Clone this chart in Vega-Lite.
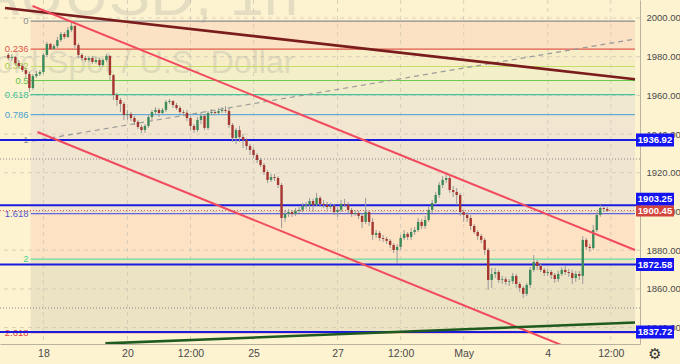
{
"$schema":"https://vega.github.io/schema/vega-lite/v6.json",
"width":640,"height":344,
"autosize":{"type":"none"},
"padding":{"left":0,"top":0,"right":40,"bottom":20},
"background":"#fdf3d1",
"config":{"view":{"stroke":null,"fill":"#fdf3d1"},"font":"Liberation Sans"},
"resolve":{"scale":{"color":"independent","fill":"independent","stroke":"independent"}},
"datasets":{
"fib":[
{"lv":"0","p":1998.43,"p2":1983.91},
{"lv":"0.236","p":1983.91,"p2":1974.93},
{"lv":"0.382","p":1974.93,"p2":1967.68},
{"lv":"0.5","p":1967.68,"p2":1960.42},
{"lv":"0.618","p":1960.42,"p2":1950.08},
{"lv":"0.786","p":1950.08,"p2":1936.92},
{"lv":"1","p":1936.92,"p2":1898.91},
{"lv":"1.618","p":1898.91,"p2":1875.41},
{"lv":"2","p":1875.41,"p2":1837.4},
{"lv":"2.618","p":1837.4}
],
"candles":[
{"t":-20,"o":1980.9,"h":1981.9,"l":1978.3,"c":1979.3},
{"t":-18,"o":1979.3,"h":1981.4,"l":1977.8,"c":1979.8},
{"t":-16,"o":1979.8,"h":1980.4,"l":1975.7,"c":1976.7},
{"t":-14,"o":1976.7,"h":1978.3,"l":1974.2,"c":1975.2},
{"t":-12,"o":1975.2,"h":1976.2,"l":1972.1,"c":1973.1},
{"t":-10,"o":1973.1,"h":1974.2,"l":1969.0,"c":1971.1},
{"t":-8,"o":1971.1,"h":1972.1,"l":1961.8,"c":1963.8},
{"t":-6,"o":1963.8,"h":1971.1,"l":1962.8,"c":1970.0},
{"t":-4,"o":1970.0,"h":1972.6,"l":1969.0,"c":1971.1},
{"t":-2,"o":1971.1,"h":1973.1,"l":1970.0,"c":1972.1},
{"t":0,"o":1972.1,"h":1981.9,"l":1971.1,"c":1980.9},
{"t":2,"o":1980.9,"h":1987.6,"l":1979.8,"c":1986.6},
{"t":4,"o":1986.6,"h":1987.1,"l":1983.5,"c":1984.0},
{"t":6,"o":1984.0,"h":1986.6,"l":1983.5,"c":1985.5},
{"t":8,"o":1985.5,"h":1990.2,"l":1984.5,"c":1988.6},
{"t":10,"o":1988.6,"h":1992.8,"l":1987.6,"c":1991.7},
{"t":12,"o":1991.7,"h":1992.8,"l":1989.1,"c":1990.2},
{"t":14,"o":1990.2,"h":1995.3,"l":1989.7,"c":1993.8},
{"t":16,"o":1993.8,"h":1998.4,"l":1992.8,"c":1995.9},
{"t":18,"o":1995.9,"h":1996.4,"l":1984.5,"c":1986.0},
{"t":20,"o":1986.0,"h":1987.1,"l":1979.3,"c":1980.9},
{"t":22,"o":1980.9,"h":1981.9,"l":1977.8,"c":1979.3},
{"t":24,"o":1979.3,"h":1980.4,"l":1977.3,"c":1978.3},
{"t":26,"o":1978.3,"h":1980.4,"l":1977.3,"c":1979.3},
{"t":28,"o":1979.3,"h":1980.4,"l":1976.2,"c":1977.3},
{"t":30,"o":1977.3,"h":1979.8,"l":1976.2,"c":1978.3},
{"t":32,"o":1978.3,"h":1979.3,"l":1974.7,"c":1975.7},
{"t":34,"o":1975.7,"h":1979.3,"l":1974.7,"c":1978.3},
{"t":36,"o":1978.3,"h":1981.4,"l":1977.3,"c":1980.4},
{"t":38,"o":1980.4,"h":1980.9,"l":1968.0,"c":1970.5},
{"t":40,"o":1970.5,"h":1971.1,"l":1957.6,"c":1960.2},
{"t":42,"o":1960.2,"h":1961.2,"l":1954.5,"c":1957.6},
{"t":44,"o":1957.6,"h":1958.7,"l":1951.4,"c":1955.6},
{"t":46,"o":1955.6,"h":1956.6,"l":1947.3,"c":1949.9},
{"t":48,"o":1949.9,"h":1952.5,"l":1947.3,"c":1950.4},
{"t":50,"o":1950.4,"h":1951.4,"l":1946.8,"c":1948.3},
{"t":52,"o":1948.3,"h":1949.3,"l":1944.7,"c":1946.3},
{"t":54,"o":1946.3,"h":1947.3,"l":1942.6,"c":1943.7},
{"t":56,"o":1943.7,"h":1944.7,"l":1940.6,"c":1942.1},
{"t":58,"o":1942.1,"h":1945.2,"l":1940.6,"c":1944.2},
{"t":60,"o":1944.2,"h":1949.9,"l":1943.2,"c":1948.8},
{"t":62,"o":1948.8,"h":1952.5,"l":1947.3,"c":1951.4},
{"t":64,"o":1951.4,"h":1954.0,"l":1950.4,"c":1952.5},
{"t":66,"o":1952.5,"h":1953.5,"l":1948.8,"c":1950.9},
{"t":68,"o":1950.9,"h":1953.5,"l":1950.4,"c":1952.5},
{"t":70,"o":1952.5,"h":1957.6,"l":1951.4,"c":1956.6},
{"t":72,"o":1956.6,"h":1958.1,"l":1955.6,"c":1957.1},
{"t":74,"o":1957.1,"h":1957.6,"l":1953.5,"c":1955.0},
{"t":76,"o":1955.0,"h":1956.1,"l":1952.5,"c":1953.5},
{"t":78,"o":1953.5,"h":1954.5,"l":1950.4,"c":1951.4},
{"t":80,"o":1951.4,"h":1952.5,"l":1949.4,"c":1951.0},
{"t":82,"o":1951.0,"h":1952.5,"l":1946.8,"c":1948.3},
{"t":84,"o":1948.3,"h":1949.3,"l":1942.1,"c":1944.2},
{"t":86,"o":1944.2,"h":1945.2,"l":1940.6,"c":1942.1},
{"t":88,"o":1942.1,"h":1948.8,"l":1941.1,"c":1947.3},
{"t":90,"o":1947.3,"h":1951.4,"l":1945.2,"c":1949.4},
{"t":92,"o":1949.4,"h":1950.4,"l":1942.1,"c":1943.2},
{"t":94,"o":1943.2,"h":1951.9,"l":1942.1,"c":1950.9},
{"t":96,"o":1950.9,"h":1953.0,"l":1949.9,"c":1951.4},
{"t":98,"o":1951.4,"h":1952.5,"l":1949.9,"c":1950.9},
{"t":100,"o":1950.9,"h":1953.5,"l":1950.4,"c":1951.9},
{"t":102,"o":1951.9,"h":1954.0,"l":1950.9,"c":1952.5},
{"t":104,"o":1952.5,"h":1954.5,"l":1950.9,"c":1952.0},
{"t":106,"o":1952.0,"h":1953.5,"l":1943.2,"c":1944.7},
{"t":108,"o":1944.7,"h":1945.7,"l":1935.9,"c":1938.0},
{"t":110,"o":1938.0,"h":1943.2,"l":1934.9,"c":1942.1},
{"t":112,"o":1942.1,"h":1944.2,"l":1935.9,"c":1938.5},
{"t":114,"o":1938.5,"h":1940.1,"l":1932.8,"c":1937.0},
{"t":116,"o":1937.0,"h":1938.0,"l":1931.8,"c":1933.8},
{"t":118,"o":1933.8,"h":1934.9,"l":1929.2,"c":1931.8},
{"t":120,"o":1931.8,"h":1932.8,"l":1927.6,"c":1929.2},
{"t":122,"o":1929.2,"h":1930.2,"l":1925.1,"c":1926.6},
{"t":124,"o":1926.6,"h":1927.6,"l":1923.0,"c":1924.0},
{"t":126,"o":1924.0,"h":1925.1,"l":1918.9,"c":1920.4},
{"t":128,"o":1920.4,"h":1921.4,"l":1914.7,"c":1916.3},
{"t":130,"o":1916.3,"h":1919.4,"l":1915.2,"c":1917.8},
{"t":132,"o":1917.8,"h":1919.4,"l":1915.8,"c":1917.3},
{"t":134,"o":1917.3,"h":1918.3,"l":1912.1,"c":1913.7},
{"t":136,"o":1913.7,"h":1914.7,"l":1891.5,"c":1896.6},
{"t":138,"o":1896.6,"h":1900.8,"l":1894.6,"c":1898.7},
{"t":140,"o":1898.7,"h":1901.3,"l":1897.2,"c":1899.7},
{"t":142,"o":1899.7,"h":1900.8,"l":1897.2,"c":1898.7},
{"t":144,"o":1898.7,"h":1901.8,"l":1897.7,"c":1900.3},
{"t":146,"o":1900.3,"h":1902.3,"l":1899.2,"c":1900.8},
{"t":148,"o":1900.8,"h":1904.4,"l":1899.7,"c":1902.8},
{"t":150,"o":1902.8,"h":1904.9,"l":1901.3,"c":1903.4},
{"t":152,"o":1903.4,"h":1907.0,"l":1900.8,"c":1905.4},
{"t":154,"o":1905.4,"h":1906.5,"l":1899.7,"c":1903.4},
{"t":156,"o":1903.4,"h":1909.6,"l":1902.8,"c":1907.0},
{"t":158,"o":1907.0,"h":1908.0,"l":1902.3,"c":1903.9},
{"t":160,"o":1903.9,"h":1905.9,"l":1901.8,"c":1903.4},
{"t":162,"o":1903.4,"h":1904.9,"l":1900.8,"c":1902.3},
{"t":164,"o":1902.3,"h":1904.4,"l":1901.3,"c":1902.8},
{"t":166,"o":1902.8,"h":1903.9,"l":1898.2,"c":1899.7},
{"t":168,"o":1899.7,"h":1902.3,"l":1897.2,"c":1900.8},
{"t":170,"o":1900.8,"h":1905.9,"l":1899.7,"c":1903.9},
{"t":172,"o":1903.9,"h":1906.5,"l":1902.3,"c":1903.5},
{"t":174,"o":1903.5,"h":1904.9,"l":1899.2,"c":1900.8},
{"t":176,"o":1900.8,"h":1901.8,"l":1897.2,"c":1898.7},
{"t":178,"o":1898.7,"h":1900.8,"l":1897.7,"c":1899.2},
{"t":180,"o":1899.2,"h":1900.3,"l":1896.1,"c":1897.7},
{"t":182,"o":1897.7,"h":1898.7,"l":1891.5,"c":1894.6},
{"t":184,"o":1894.6,"h":1907.0,"l":1893.5,"c":1899.7},
{"t":186,"o":1899.7,"h":1900.8,"l":1892.5,"c":1894.6},
{"t":188,"o":1894.6,"h":1896.6,"l":1885.3,"c":1887.9},
{"t":190,"o":1887.9,"h":1890.4,"l":1886.3,"c":1888.9},
{"t":192,"o":1888.9,"h":1889.9,"l":1884.8,"c":1886.3},
{"t":194,"o":1886.3,"h":1887.9,"l":1884.2,"c":1885.8},
{"t":196,"o":1885.8,"h":1886.8,"l":1883.2,"c":1884.8},
{"t":198,"o":1884.8,"h":1885.8,"l":1881.1,"c":1882.7},
{"t":200,"o":1882.7,"h":1883.7,"l":1878.6,"c":1880.1},
{"t":202,"o":1880.1,"h":1883.2,"l":1873.4,"c":1881.7},
{"t":204,"o":1881.7,"h":1887.9,"l":1880.1,"c":1886.3},
{"t":206,"o":1886.3,"h":1890.4,"l":1885.3,"c":1888.4},
{"t":208,"o":1888.4,"h":1889.4,"l":1885.3,"c":1886.8},
{"t":210,"o":1886.8,"h":1891.5,"l":1885.3,"c":1889.4},
{"t":212,"o":1889.4,"h":1892.0,"l":1887.9,"c":1890.4},
{"t":214,"o":1890.4,"h":1896.6,"l":1889.4,"c":1894.6},
{"t":216,"o":1894.6,"h":1896.1,"l":1891.0,"c":1892.5},
{"t":218,"o":1892.5,"h":1897.7,"l":1891.0,"c":1895.6},
{"t":220,"o":1895.6,"h":1902.8,"l":1894.6,"c":1900.8},
{"t":222,"o":1900.8,"h":1905.9,"l":1899.2,"c":1904.4},
{"t":224,"o":1904.4,"h":1910.1,"l":1903.4,"c":1908.5},
{"t":226,"o":1908.5,"h":1915.2,"l":1907.0,"c":1913.7},
{"t":228,"o":1913.7,"h":1918.3,"l":1912.1,"c":1916.3},
{"t":230,"o":1916.3,"h":1919.4,"l":1914.7,"c":1917.3},
{"t":232,"o":1917.3,"h":1918.3,"l":1909.6,"c":1911.1},
{"t":234,"o":1911.1,"h":1913.2,"l":1907.5,"c":1910.1},
{"t":236,"o":1910.1,"h":1912.1,"l":1903.4,"c":1908.5},
{"t":238,"o":1908.5,"h":1909.6,"l":1897.7,"c":1899.7},
{"t":240,"o":1899.7,"h":1900.8,"l":1894.6,"c":1898.2},
{"t":242,"o":1898.2,"h":1899.7,"l":1894.6,"c":1896.6},
{"t":244,"o":1896.6,"h":1898.2,"l":1890.4,"c":1892.5},
{"t":246,"o":1892.5,"h":1893.5,"l":1888.4,"c":1889.4},
{"t":248,"o":1889.4,"h":1890.4,"l":1885.3,"c":1887.3},
{"t":250,"o":1887.3,"h":1888.4,"l":1883.7,"c":1885.3},
{"t":252,"o":1885.3,"h":1886.3,"l":1877.5,"c":1880.1},
{"t":254,"o":1880.1,"h":1881.1,"l":1859.4,"c":1864.6},
{"t":256,"o":1864.6,"h":1870.8,"l":1860.5,"c":1867.7},
{"t":258,"o":1867.7,"h":1870.8,"l":1865.6,"c":1868.7},
{"t":260,"o":1868.7,"h":1869.8,"l":1863.1,"c":1864.6},
{"t":262,"o":1864.6,"h":1866.7,"l":1862.5,"c":1865.0},
{"t":264,"o":1865.0,"h":1866.2,"l":1862.0,"c":1863.6},
{"t":266,"o":1863.6,"h":1865.1,"l":1861.5,"c":1863.9},
{"t":268,"o":1863.9,"h":1868.2,"l":1862.5,"c":1866.7},
{"t":270,"o":1866.7,"h":1867.7,"l":1860.5,"c":1862.5},
{"t":272,"o":1862.5,"h":1863.6,"l":1858.4,"c":1860.5},
{"t":274,"o":1860.5,"h":1861.5,"l":1855.3,"c":1857.4},
{"t":276,"o":1857.4,"h":1863.1,"l":1856.3,"c":1862.0},
{"t":278,"o":1862.0,"h":1871.3,"l":1860.5,"c":1869.8},
{"t":280,"o":1869.8,"h":1877.5,"l":1868.7,"c":1873.9},
{"t":282,"o":1873.9,"h":1874.9,"l":1869.8,"c":1871.8},
{"t":284,"o":1871.8,"h":1873.4,"l":1868.7,"c":1869.8},
{"t":286,"o":1869.8,"h":1870.8,"l":1866.7,"c":1868.2},
{"t":288,"o":1868.2,"h":1870.3,"l":1866.7,"c":1868.7},
{"t":290,"o":1868.7,"h":1869.8,"l":1865.1,"c":1867.2},
{"t":292,"o":1867.2,"h":1868.2,"l":1863.1,"c":1865.1},
{"t":294,"o":1865.1,"h":1869.3,"l":1863.6,"c":1867.7},
{"t":296,"o":1867.7,"h":1871.3,"l":1866.7,"c":1869.8},
{"t":298,"o":1869.8,"h":1871.8,"l":1867.2,"c":1868.7},
{"t":300,"o":1868.7,"h":1870.3,"l":1866.2,"c":1868.2},
{"t":302,"o":1868.2,"h":1869.8,"l":1862.5,"c":1865.6},
{"t":304,"o":1865.6,"h":1869.3,"l":1863.6,"c":1867.7},
{"t":306,"o":1867.7,"h":1869.3,"l":1864.6,"c":1866.7},
{"t":308,"o":1866.7,"h":1887.3,"l":1862.5,"c":1885.3},
{"t":310,"o":1885.3,"h":1886.3,"l":1880.1,"c":1881.7},
{"t":312,"o":1881.7,"h":1883.2,"l":1879.1,"c":1881.1},
{"t":314,"o":1881.1,"h":1893.0,"l":1880.1,"c":1890.4},
{"t":316,"o":1890.4,"h":1899.7,"l":1889.4,"c":1898.2},
{"t":318,"o":1898.2,"h":1903.4,"l":1897.2,"c":1901.8},
{"t":320,"o":1901.8,"h":1902.8,"l":1899.7,"c":1901.3},
{"t":322,"o":1901.3,"h":1902.3,"l":1899.7,"c":1900.45}
]
},
"layer":[
{"data":{"name":"fib"},"transform":[{"filter":"isValid(datum.p2)"}],
 "mark":{"type":"rect"},
 "encoding":{
  "x":{"datum":-7.3,"type":"quantitative","scale":{"domain":[-21.92,337.83],"nice":false,"zero":false},
   "axis":{"orient":"bottom","values":[0,48,84,120,168,204,240,288,324],
    "labelExpr":"datum.value==0?'18':datum.value==48?'20':datum.value==84?'12:00':datum.value==120?'25':datum.value==168?'27':datum.value==204?'12:00':datum.value==240?'May':datum.value==288?'4':'12:00'",
    "title":null,"grid":false,"ticks":false,"labelPadding":4,"labelFontSize":10.5,"labelColor":"#4a4a4a","domainColor":"#b9b29e","labelFlush":false}},
  "x2":{"datum":337.83},
  "y":{"field":"p","type":"quantitative","scale":{"domain":[1831.5,2009.3],"nice":false,"zero":false},
   "axis":{"orient":"right","values":[1840,1860,1880,1900,1920,1940,1960,1980,2000],"format":".2f",
    "title":null,"grid":false,"ticks":false,"labelPadding":6,"labelFontSize":9.5,"labelColor":"#4a4a4a","domainColor":"#b9b29e"}},
  "y2":{"field":"p2"},
  "fill":{"field":"lv","type":"nominal","legend":null,
   "scale":{"domain":["0","0.236","0.382","0.5","0.618","0.786","1","1.618","2"],
    "range":["#fbe2c4","#f7eec8","#f3efc8","#f0edcb","#f1e9cf","#f2e6d0","#f0e5d0","#fde2c4","#ece3c4"]}}
 }},
{"data":{"values":[{"t":0},{"t":48},{"t":84},{"t":120},{"t":168},{"t":204},{"t":240},{"t":288},{"t":324}]},
 "mark":{"type":"rule","color":"#cfc8b6","strokeDash":[4,4],"strokeWidth":1,"opacity":0.8},
 "encoding":{"x":{"field":"t","type":"quantitative"}}},
{"data":{"values":[{"p":1840},{"p":1860},{"p":1880},{"p":1900},{"p":1920},{"p":1940},{"p":1960},{"p":1980},{"p":2000}]},
 "mark":{"type":"rule","color":"#cfc8b6","strokeDash":[4,4],"strokeWidth":1,"opacity":0.8},
 "encoding":{"y":{"field":"p","type":"quantitative"}}},
{"data":{"values":[{"txt":"XAUUSD, 1h","t":145.6,"p":2001.5,"s":"big"},{"txt":"Gold Spot / U.S. Dollar","t":143.3,"p":1971.6,"s":"small"}]},
 "transform":[{"filter":"datum.s=='big'"}],
 "mark":{"type":"text","align":"right","baseline":"alphabetic","fontSize":62,"fill":"#8a8a8a","opacity":0.2},
 "encoding":{"x":{"field":"t","type":"quantitative"},"y":{"field":"p","type":"quantitative"},"text":{"field":"txt"}}},
{"data":{"values":[{"txt":"XAUUSD, 1h","t":145.6,"p":2001.5,"s":"big"},{"txt":"Gold Spot / U.S. Dollar","t":143.3,"p":1971.6,"s":"small"}]},
 "transform":[{"filter":"datum.s=='small'"}],
 "mark":{"type":"text","align":"right","baseline":"alphabetic","fontSize":32,"fill":"#8a8a8a","opacity":0.2},
 "encoding":{"x":{"field":"t","type":"quantitative"},"y":{"field":"p","type":"quantitative"},"text":{"field":"txt"}}},
{"data":{"name":"fib"},
 "mark":{"type":"rule","strokeWidth":1.2},
 "encoding":{"x":{"datum":-7.3},"x2":{"datum":337.83},"y":{"field":"p","type":"quantitative"},
  "color":{"field":"lv","type":"nominal","legend":null,
   "scale":{"domain":["0","0.236","0.382","0.5","0.618","0.786","1","1.618","2","2.618"],
    "range":["#8c8c8c","#e0584a","#c6dc6c","#6acb4e","#45c29b","#64aad4","#8c8c8c","#6464dc","#6ddca5","#e04a4a"]}}}},
{"data":{"name":"fib"},
 "mark":{"type":"text","align":"right","baseline":"middle","dx":-2,"fontSize":9.5},
 "encoding":{"x":{"datum":-7.3},"y":{"field":"p","type":"quantitative"},"text":{"field":"lv"},
  "color":{"field":"lv","type":"nominal","legend":null,
   "scale":{"domain":["0","0.236","0.382","0.5","0.618","0.786","1","1.618","2","2.618"],
    "range":["#8c8c8c","#e0584a","#a8c84a","#5cc040","#3cbf95","#4a9fd0","#8c8c8c","#5555cc","#4cd08f","#e04040"]}}}},
{"data":{"values":[{"p":1927.1},{"p":1850.1}]},
 "mark":{"type":"rule","color":"#8a8a8a","strokeDash":[1,2],"strokeWidth":1},
 "encoding":{"y":{"field":"p","type":"quantitative"}}},
{"data":{"values":[{"p":1900.45}]},
 "mark":{"type":"rule","color":"#d9534f","strokeDash":[1,2],"strokeWidth":1},
 "encoding":{"y":{"field":"p","type":"quantitative"}}},
{"data":{"values":[{"t":-6.2,"p":1936.4},{"t":337.83,"p":1989.1}]},
 "mark":{"type":"line","color":"#9a9a9a","strokeDash":[5,4],"strokeWidth":1.2,"clip":true},
 "encoding":{"x":{"field":"t","type":"quantitative"},"y":{"field":"p","type":"quantitative"}}},
{"data":{"values":[{"p":1936.92},{"p":1903.25},{"p":1872.58},{"p":1837.72}]},
 "mark":{"type":"rule","color":"#1a1ae0","strokeWidth":2},
 "encoding":{"y":{"field":"p","type":"quantitative"}}},
{"data":{"name":"candles"},
 "mark":{"type":"rule","color":"#9a9a9a","strokeWidth":1},
 "encoding":{"x":{"field":"t","type":"quantitative"},"y":{"field":"l","type":"quantitative"},"y2":{"field":"h"}}},
{"data":{"name":"candles"},
 "mark":{"type":"bar","width":2.4},
 "encoding":{"x":{"field":"t","type":"quantitative"},"y":{"field":"o","type":"quantitative"},"y2":{"field":"c"},
  "color":{"condition":{"test":"datum.c >= datum.o","value":"#3b8a5a"},"value":"#a53530"}}},
{"data":{"values":[{"t":-21.92,"p":2005.2},{"t":337.83,"p":1968.3}]},
 "mark":{"type":"line","color":"#7a1c1c","strokeWidth":2.6,"clip":true},
 "encoding":{"x":{"field":"t","type":"quantitative"},"y":{"field":"p","type":"quantitative"}}},
{"data":{"values":[{"t":-6.2,"p":2006.2},{"t":337.83,"p":1880.1}]},
 "mark":{"type":"line","color":"#f24a5e","strokeWidth":2,"clip":true},
 "encoding":{"x":{"field":"t","type":"quantitative"},"y":{"field":"p","type":"quantitative"}}},
{"data":{"values":[{"t":-3.4,"p":1941.1},{"t":337.83,"p":1815.5}]},
 "mark":{"type":"line","color":"#f24a5e","strokeWidth":2,"clip":true},
 "encoding":{"x":{"field":"t","type":"quantitative"},"y":{"field":"p","type":"quantitative"}}},
{"data":{"values":[{"t":35.4,"p":1831.8},{"t":337.83,"p":1842.6}]},
 "mark":{"type":"line","color":"#1f5a1f","strokeWidth":2.6,"clip":true},
 "encoding":{"x":{"field":"t","type":"quantitative"},"y":{"field":"p","type":"quantitative"}}},
{"data":{"values":[{"p":1936.92},{"p":1872.58},{"p":1837.72}]},
 "mark":{"type":"rect","color":"#1414f0","xOffset":1,"x2Offset":39,"yOffset":-6.5,"y2Offset":6.5},
 "encoding":{"x":{"datum":337.83},"x2":{"datum":337.83},"y":{"field":"p","type":"quantitative"},"y2":{"field":"p"}}},
{"data":{"values":[{"p":1903.25}]},
 "mark":{"type":"rect","color":"#1414f0","xOffset":1,"x2Offset":39,"yOffset":-12.5,"y2Offset":0.5},
 "encoding":{"x":{"datum":337.83},"x2":{"datum":337.83},"y":{"field":"p","type":"quantitative"},"y2":{"field":"p"}}},
{"data":{"values":[{"p":1900.45}]},
 "mark":{"type":"rect","color":"#d2453c","xOffset":1,"x2Offset":39,"yOffset":-5,"y2Offset":6},
 "encoding":{"x":{"datum":337.83},"x2":{"datum":337.83},"y":{"field":"p","type":"quantitative"},"y2":{"field":"p"}}},
{"data":{"values":[{"p":1936.92},{"p":1872.58},{"p":1837.72},{"p":1900.45}]},
 "mark":{"type":"text","color":"white","align":"center","baseline":"middle","dx":20,"fontSize":9.5,"fontWeight":"bold"},
 "encoding":{"x":{"datum":337.83},"y":{"field":"p","type":"quantitative"},"text":{"field":"p","type":"quantitative","format":".2f"}}},
{"data":{"values":[{"p":1903.25}]},
 "mark":{"type":"text","color":"white","align":"center","baseline":"middle","dx":20,"dy":-6,"fontSize":9.5,"fontWeight":"bold"},
 "encoding":{"x":{"datum":337.83},"y":{"field":"p","type":"quantitative"},"text":{"field":"p","type":"quantitative","format":".2f"}}},
{"data":{"values":[{"g":"⚙"}]},
 "mark":{"type":"text","color":"#333333","align":"center","baseline":"middle","dx":20,"dy":10,"fontSize":15,"font":"DejaVu Sans"},
 "encoding":{"x":{"datum":337.83},"y":{"datum":1831.5},"text":{"field":"g"}}}
]
}
